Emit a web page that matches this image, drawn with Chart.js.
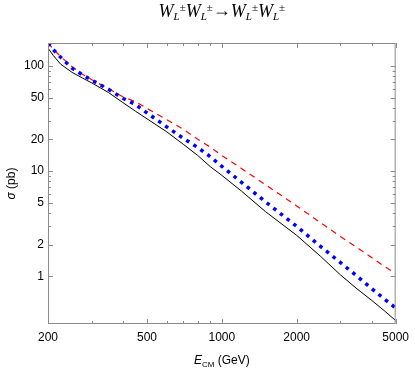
<!DOCTYPE html>
<html>
<head>
<meta charset="utf-8">
<script src="https://cdn.jsdelivr.net/npm/chart.js@4.4.1/dist/chart.umd.min.js"></script>
<style>
    html, body { margin: 0; padding: 0; background: #fff; }
    #wrap { width: 415px; height: 368px; }
</style>
</head>
<body>
<div id="wrap"><canvas id="chart" width="415" height="368"></canvas></div>
<script>
// centre-of-mass energy (GeV)
const energy = [200, 210, 225, 250, 275, 300, 350, 400, 450, 500, 600, 700, 800, 900,
    1000, 1200, 1500, 2000, 2500, 3000, 3500, 4000, 4500, 5000];

// cross sections (pb)
const sigmaBlack = [148, 126, 104, 87, 77, 69, 56, 44.9, 37.1, 31.5, 23.7, 18.0, 14.1, 11.0,
    9.12, 6.45, 4.11, 2.45, 1.54, 1.03, 0.757, 0.591, 0.47, 0.379];
const sigmaBlue = [165, 143, 121, 95.3, 82.6, 73.3, 60.1, 49.3, 43, 35.8, 26.4, 20.5, 16.8, 13.7,
    11.1, 7.82, 5.10, 2.98, 1.91, 1.35, 1.0, 0.765, 0.608, 0.499];
const sigmaRed = [167, 144.5, 122.7, 98.5, 83.5, 74.1, 60.8, 51, 45.8, 39.5, 31, 25, 20.1, 16.9,
    14.1, 10.6, 7.41, 4.67, 3.22, 2.39, 1.87, 1.51, 1.245, 1.06];

const xTicks = [200, 500, 1000, 2000, 5000];
const xMinorTicks = [300, 400, 600, 700, 800, 900, 3000, 4000];
const yTicks = [1, 2, 5, 10, 20, 50, 100];
const yMinorTicks = [3, 4, 6, 7, 8, 9, 30, 40, 60, 70, 80, 90];

const SANS = "'Liberation Sans', Arial, sans-serif";
const SERIF = "'Liberation Serif', 'Times New Roman', serif";

Chart.defaults.font.family = SANS;
Chart.defaults.font.size = 12;
Chart.defaults.color = "#000";

function drawRich(ctx, parts, x, y) {
    // parts: [text, font, dy]; drawn centred on x
    let w = 0;
    parts.forEach((p) => {
        ctx.font = p[1];
        w += ctx.measureText(p[0]).width;
    });
    let cx = x - w / 2;
    parts.forEach((p) => {
        ctx.font = p[1];
        ctx.fillText(p[0], cx, y + p[2]);
        cx += ctx.measureText(p[0]).width;
    });
}

const frameAndLabels = {
    id: "frameAndLabels",
    afterDatasetsDraw(chart) {
        const { ctx, chartArea: a, scales } = chart;
        ctx.save();
        ctx.strokeStyle = "#8c8c8c";
        ctx.lineWidth = 1;
        ctx.strokeRect(a.left + 0.5, a.top + 0.5, a.right - a.left - 1, a.bottom - a.top - 1);

        const tick = (vals, len) => {
            ctx.beginPath();
            vals.forEach((v) => {
                const px = Math.round(scales.x.getPixelForValue(v)) + 0.5;
                ctx.moveTo(px, a.bottom);
                ctx.lineTo(px, a.bottom - len);
                ctx.moveTo(px, a.top);
                ctx.lineTo(px, a.top + len);
            });
            ctx.stroke();
        };
        const ytick = (vals, len) => {
            ctx.beginPath();
            vals.forEach((v) => {
                const py = Math.round(scales.y.getPixelForValue(v)) + 0.5;
                ctx.moveTo(a.left, py);
                ctx.lineTo(a.left + len, py);
                ctx.moveTo(a.right, py);
                ctx.lineTo(a.right - len, py);
            });
            ctx.stroke();
        };
        tick(xTicks, 5);
        tick(xMinorTicks, 3);
        ytick(yTicks, 5);
        ytick(yMinorTicks, 3);

        ctx.fillStyle = "#000";
        ctx.textBaseline = "alphabetic";
        const big = "italic 18px " + SERIF;
        const sub = "italic 11px " + SERIF;
        const sup = "11px " + SERIF;
        const wl = [["W", big, 0], ["L", sub, 3], ["\u00b1", sup, -6]];
        drawRich(ctx, [...wl, ...wl, ["\u2192", "18px " + SERIF, -1], ...wl, ...wl],
            (a.left + a.right) / 2, 17);

        drawRich(ctx, [["E", "italic 12px " + SANS, 0], ["CM", "8px " + SANS, 3],
            [" (GeV)", "12px " + SANS, 0]], (a.left + a.right) / 2, 364);

        ctx.translate(12, (a.top + a.bottom) / 2);
        ctx.rotate(-Math.PI / 2);
        ctx.textBaseline = "middle";
        drawRich(ctx, [["\u03c3", "italic 12px " + SANS, 0], [" (pb)", "12px " + SANS, 0]], 0, 0);
        ctx.restore();
    },
};

const pairs = (ys) => energy.map((e, i) => ({ x: e, y: ys[i] }));

new Chart(document.getElementById("chart"), {
    type: "line",
    data: {
        datasets: [
            {
                data: pairs(sigmaBlue),
                borderColor: "#0000ff",
                borderWidth: 3.5,
                borderDash: [3.5, 5],
                borderCapStyle: "butt",
            },
            {
                data: pairs(sigmaRed),
                borderColor: "#ff0000",
                borderWidth: 1.2,
                borderDash: [6, 5],
            },
            {
                data: pairs(sigmaBlack),
                borderColor: "#000",
                borderWidth: 1,
            },
        ],
    },
    options: {
        responsive: false,
        animation: false,
        devicePixelRatio: 1,
        layout: { padding: { top: 43, right: 14, left: 0, bottom: 0 } },
        elements: {
            line: { tension: 0, fill: false },
            point: { radius: 0 },
        },
        plugins: {
            legend: { display: false },
            tooltip: { enabled: false },
            title: { display: false },
        },
        scales: {
            x: {
                type: "logarithmic",
                min: 200,
                max: 5000,
                grid: { display: false, drawTicks: false },
                border: { display: false },
                ticks: {
                    autoSkip: false,
                    maxRotation: 0,
                    padding: 6,
                    callback: (v) => String(v),
                },
                afterBuildTicks: (s) => {
                    s.ticks = xTicks.map((v) => ({ value: v }));
                },
                afterFit: (s) => {
                    s.height = 44;
                },
            },
            y: {
                type: "logarithmic",
                min: 0.3513,
                max: 165.6,
                grid: { display: false, drawTicks: false },
                border: { display: false },
                ticks: {
                    autoSkip: false,
                    padding: 4,
                    callback: (v) => String(v),
                },
                afterBuildTicks: (s) => {
                    s.ticks = yTicks.map((v) => ({ value: v }));
                },
                afterFit: (s) => {
                    s.width = 48;
                },
            },
        },
    },
    plugins: [frameAndLabels],
});
</script>
</body>
</html>
